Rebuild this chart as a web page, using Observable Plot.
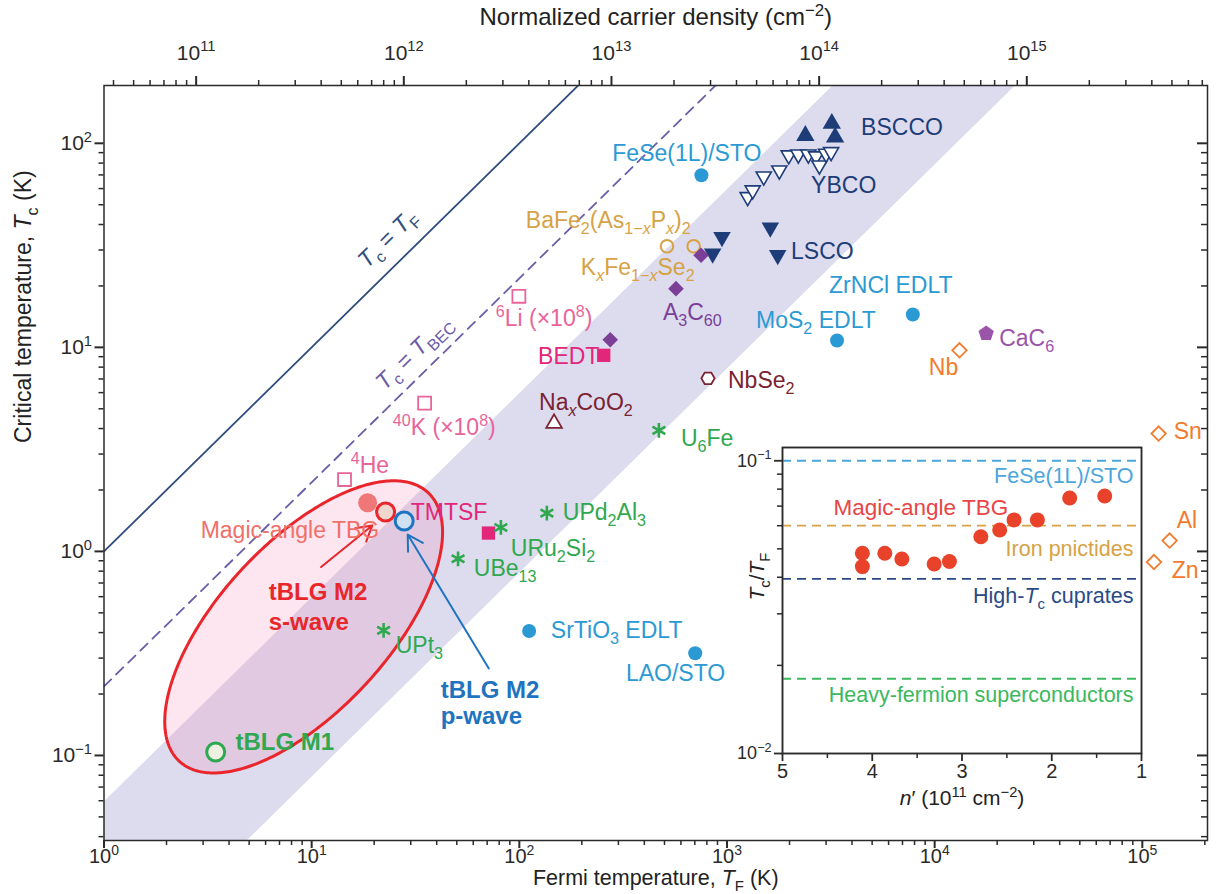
<!DOCTYPE html>
<html><head><meta charset="utf-8">
<script src="https://cdn.jsdelivr.net/npm/d3@7"></script>
<script src="https://cdn.jsdelivr.net/npm/@observablehq/plot@0.6"></script>
<style>
body{margin:0;background:#fff;}
#wrap{position:relative;width:1220px;height:894px;}
#wrap svg{position:absolute;}
</style></head><body><div id="wrap"></div>
<script>
// ---------------- DATA (T_F in K, T_c in K) ----------------
const bsccoPts = [[2384,109],[3197,125],[3315,107]];
const ybcoPts = [[1258,54.6],[1330,58.9],[1503,68.9],[1786,73.7],[1983,87.4],[2206,88.3],[2465,88.3],[2685,86.4],[2786,78.0],[3000,89],[3172,90.7]];
const lscoPts = [[946,34.7],[853,28.8],[1617,38.6],[1755,28.3]];
const pnictidePts = [[514,31.3],[691,31.3]];
const fulleridePts = [[750,28.3],[568,19.4],[274,10.9]];
const organicPts = [[255,9.14],[71,1.23]];          // BEDT, TMTSF
const coldAtomPts = [[99.5,17.8],[35,5.33],[14.4,2.25]]; // 6Li, 40K, 4He
const nbse2Pts = [[810,7.05]];
const naxcoo2Pts = [[147,4.24]];
const heavyFermionPts = [[470,3.92],[81.5,1.31],[50.7,0.92],[135.7,1.54],[22.2,0.41]];
const interfacePts = [[753,69.7],[7850,14.5],[3388,10.8],[111.5,0.407],[703,0.317]];
const cac6Pts = [[17700,11.7]];
const elementPts = [[13170,9.67],[119800,3.78],[135400,1.13],[113800,0.887]];
const tbgMagicPts = [[18.6,1.73]];
const tblgM2sPts = [[22.7,1.56]];
const tblgM2pPts = [[27.9,1.41]];
const tblgM1Pts = [[3.45,0.104]];

// reference lines: T_c / T_F ratios
const tfRatio = 1, becRatio = 0.218, bandLo = 0.0078, bandHi = 0.059;

// inset: n' (1e11 cm^-2), T_c/T_F
const insetTBG = [[4.11,0.0483],[4.11,0.0435],[3.86,0.0483],[3.67,0.0462],[3.31,0.0444],[3.14,0.0453],[2.79,0.055],[2.58,0.058],[2.42,0.0628],[2.16,0.0628],[1.80,0.0746],[1.41,0.0758]];
const insetRefLines = [{v:0.1,g:"lightBlueLine"},{v:0.06,g:"tan"},{v:0.0395,g:"navyLine"},{v:0.018,g:"greenLine"}];

// axis ticks
const xMajor = [1,10,100,1e3,1e4,1e5];
const yMajor = [0.1,1,10,100];
const nMajor = [1e11,1e12,1e13,1e14,1e15];
const insetXMajor = [5,4,3,2,1], insetXMinor = [4.5,3.5,2.5,1.5];
const insetYMajor = [0.01,0.1];

// labels (data coordinates)
const labelsStart = [
 {t:"BSCCO", x:4424, y:119.8, g:"navy"},
 {t:"YBCO", x:2541, y:62.3, g:"navy"},
 {t:"LSCO", x:2034, y:29.6, g:"navy"},
 {t:"BaFe_{2}(As_{1−*x*}P_{*x*})_{2}", x:107.5, y:41.9, g:"tan"},
 {t:"K_{*x*}Fe_{1−*x*}Se_{2}", x:197.8, y:24.7, g:"tan"},
 {t:"A_{3}C_{60}", x:491.6, y:14.85, g:"purple"},
 {t:"ZrNCl EDLT", x:3101, y:20.1, g:"lightBlue"},
 {t:"MoS_{2} EDLT", x:1380, y:13.56, g:"lightBlue"},
 {t:"CaC_{6}", x:20460, y:11.07, g:"violet"},
 {t:"NbSe_{2}", x:1011, y:6.89, g:"darkRed"},
 {t:"U_{6}Fe", x:600, y:3.58, g:"green"},
 {t:"^{6}Li (×10^{8})", x:77.0, y:13.87, g:"pink"},
 {t:"^{40}K (×10^{8})", x:24.6, y:4.05, g:"pink"},
 {t:"^{4}He", x:15.42, y:2.64, g:"pink"},
 {t:"TMTSF", x:30.0, y:1.553, g:"magenta"},
 {t:"Magic-angle TBG", x:2.92, y:1.267, g:"salmon"},
 {t:"UPt_{3}", x:25.4, y:0.346, g:"green"},
 {t:"URu_{2}Si_{2}", x:91.0, y:1.034, g:"green"},
 {t:"UBe_{13}", x:60.4, y:0.825, g:"green"},
 {t:"UPd_{2}Al_{3}", x:162, y:1.553, g:"green"},
 {t:"SrTiO_{3} EDLT", x:141.8, y:0.41, g:"lightBlue"},
 {t:"LAO/STO", x:326, y:0.2523, g:"lightBlue"},
 {t:"Sn", x:141500, y:3.875, g:"orange"},
 {t:"Al", x:146300, y:1.419, g:"orange"},
 {t:"Zn", x:138400, y:0.807, g:"orange"}
];
const labelsMiddle = [
 {t:"FeSe(1L)/STO", x:641, y:89.3, g:"lightBlue"},
 {t:"Na_{*x*}CoO_{2}", x:209.2, y:5.38, g:"darkRed"}
];
const labelsEnd = [
 {t:"Nb", x:12980, y:7.98, g:"orange"},
 {t:"BEDT", x:243, y:9.03, g:"magenta"}
];
const labelsBold = [
 {t:"tBLG M2", x:6.21, y:0.629, g:"red"},
 {t:"s-wave", x:6.21, y:0.449, g:"red"},
 {t:"tBLG M1", x:4.30, y:0.1159, g:"green"},
 {t:"tBLG M2", x:41.8, y:0.2083, g:"blue"},
 {t:"p-wave", x:41.8, y:0.1553, g:"blue"}
];
const labelsRot = [
 {t:"*T*_{c} = *T*_{F}", x:23.2, y:34.2, g:"tfLine"},
 {t:"*T*_{c} = *T*_{BEC}", x:31.0, y:9.45, g:"bec"}
];
const arrowsData = [
 {x1:11.1, y1:0.838, x2:19.6, y2:1.34, g:"red"},
 {x1:71.3, y1:0.267, x2:29.0, y2:1.21, g:"blue"}
];
const insetLabelsEnd = [
 {t:"FeSe(1L)/STO", x:1.089, y:0.0889, g:"lightBlueLine"},
 {t:"Iron pnictides", x:1.089, y:0.0501, g:"tan"},
 {t:"High-*T*_{c} cuprates", x:1.089, y:0.0346, g:"navyLine"},
 {t:"Heavy-fermion superconductors", x:1.089, y:0.01578, g:"greenLine"}
];
const insetLabelsStart = [{t:"Magic-angle TBG", x:4.432, y:0.0691, g:"insetRed"}];

// ---------------- STYLE ----------------
const C = {
 navy:"#1d3c78", lightBlue:"#2b9ad4", tan:"#d6a245", purple:"#7b3f98", violet:"#9b55a8",
 magenta:"#e2277b", pink:"#e8649a", darkRed:"#7b2233", green:"#2fa84f", orange:"#f27b2e",
 red:"#e8262b", salmon:"#f0706a", blue:"#1f74c0", tfLine:"#2e4d7e", bec:"#6c5ca8",
 lightBlueLine:"#4aa6dc", navyLine:"#2a4a86", greenLine:"#3cb860", insetRed:"#e84545"
};
const F = "'Liberation Sans', Arial, Helvetica, sans-serif";
const W = 1220, H = 894, mL = 103.5, mR = 13, mT = 85, mB = 54;
const xDom = [1, 2.06e5], yDom = [0.0383, 192];
const nPerK = 3.6e10;
const axisC = "#2a2a2a";
const pxX = (W - mL - mR) / Math.log10(xDom[1] / xDom[0]);
const rightTick = len => xDom[1] / Math.pow(10, len / pxX);
const pow10 = e => `10^{${e < 0 ? "−" + (-e) : e}}`;
const minors = (lo, hi, k0, k1) => { const out = []; for (let k = k0; k <= k1; k++) for (let m = 2; m <= 9; m++) { const v = m * Math.pow(10, k); if (v >= lo && v <= hi) out.push(v); } return out; };
const xMinor = minors(xDom[0], xDom[1], 0, 5);
const yMinor = minors(yDom[0], yDom[1], -2, 2);
const nMinor = minors(xDom[0] * nPerK, xDom[1] * nPerK, 10, 15);
const insetYMinor = minors(0.01, 0.1, -2, -2);

// symbols
const sqrt3 = Math.sqrt(3);
const triangleDown = {draw(ctx, size){ const y = -Math.sqrt(size / (sqrt3 * 3)); ctx.moveTo(0, -y * 2); ctx.lineTo(-sqrt3 * y, y); ctx.lineTo(sqrt3 * y, y); ctx.closePath(); }};
const polygon = (n, k, rot) => ({draw(ctx, size){ const r = Math.sqrt(size / k); for (let i = 0; i < n; i++){ const a = rot + i * 2 * Math.PI / n; const px = r * Math.cos(a), py = r * Math.sin(a); if (i) ctx.lineTo(px, py); else ctx.moveTo(px, py); } ctx.closePath(); }});
const pentagon = polygon(5, 2.378, -Math.PI / 2);
const hexagon = polygon(6, 2.598, 0);

// ellipse (log-space shape)
const ell = {cx: 9.15, cy: 0.4266, a: 0.89, b: 0.41, angle: 48};
const th = ell.angle * Math.PI / 180;
const ellPt = t => {
  const u = Math.log10(ell.cx) + ell.a * Math.cos(t) * Math.cos(th) - ell.b * Math.sin(t) * Math.sin(th);
  const v = Math.log10(ell.cy) + ell.a * Math.cos(t) * Math.sin(th) + ell.b * Math.sin(t) * Math.cos(th);
  return [Math.pow(10, u), Math.pow(10, v)];
};
const ellHalf = d3.range(0, 181).map(i => { const t = i * Math.PI / 180, p = ellPt(t), q = ellPt(-t); return {x1:p[0], y1:p[1], x2:q[0], y2:q[1]}; });
const ellRing = d3.range(0, 361).map(i => ellPt(i * Math.PI / 180));

const X = d => d[0], Y = d => d[1];
const dots = (data, o) => Plot.dot(data, {x: X, y: Y, ...o});
const txt = (data, o) => Plot.text(data, {x: "x", y: "y", text: "t", fill: d => C[d.g], fontSize: 23, ...o});

const main = Plot.plot({
  width: W, height: H, marginLeft: mL, marginRight: mR, marginTop: mT, marginBottom: mB,
  x: {type: "log", domain: xDom, label: null},
  y: {type: "log", domain: yDom, label: null},
  color: {type: "identity"},
  style: {fontFamily: F, background: "transparent", overflow: "visible"},
  marks: [
    Plot.area(xDom, {x1: d => d, y1: d => d * bandLo, x2: d => d, y2: d => d * bandHi, fill: "#dcdcee", clip: true}),
    Plot.line(xDom, {x: d => d, y: d => d * tfRatio, stroke: C.tfLine, strokeWidth: 1.8, clip: true}),
    Plot.line(xDom, {x: d => d, y: d => d * becRatio, stroke: C.bec, strokeWidth: 1.8, strokeDasharray: "10,7", clip: true}),
    Plot.area(ellHalf, {x1: "x1", y1: "y1", x2: "x2", y2: "y2", fill: "#f48fb5", fillOpacity: 0.22}),
    dots(bsccoPts, {symbol: "triangle", r: 6.8, fill: C.navy}),
    dots(ybcoPts, {symbol: triangleDown, r: 5.6, fill: "white", stroke: C.navy, strokeWidth: 1.6}),
    dots(lscoPts, {symbol: triangleDown, r: 6.5, fill: C.navy}),
    dots(pnictidePts, {symbol: "circle", r: 6.3, fill: "none", stroke: C.tan, strokeWidth: 2}),
    dots(fulleridePts, {symbol: "diamond2", r: 7, fill: C.purple}),
    dots(organicPts, {symbol: "square", r: 7.5, fill: C.magenta}),
    dots(coldAtomPts, {symbol: "square", r: 7.3, fill: "white", stroke: C.pink, strokeWidth: 1.8}),
    dots(nbse2Pts, {symbol: hexagon, r: 6, fill: "white", stroke: C.darkRed, strokeWidth: 1.8}),
    dots(naxcoo2Pts, {symbol: "triangle", r: 5.8, fill: "white", stroke: C.darkRed, strokeWidth: 1.8}),
    dots(heavyFermionPts, {symbol: "asterisk", r: 7, stroke: C.green, strokeWidth: 2.6}),
    dots(interfacePts, {symbol: "circle", r: 7, fill: C.lightBlue}),
    dots(cac6Pts, {symbol: pentagon, r: 7, fill: C.violet}),
    dots(elementPts, {symbol: "diamond2", r: 6.5, fill: "white", stroke: C.orange, strokeWidth: 1.8}),
    dots(tbgMagicPts, {symbol: "circle", r: 9.5, fill: "#ee6a6a", fillOpacity: 0.9}),
    dots(tblgM2sPts, {symbol: "circle", r: 9, fill: "#f1d6cf", stroke: C.red, strokeWidth: 3}),
    dots(tblgM2pPts, {symbol: "circle", r: 9, fill: "#cfe0f2", stroke: C.blue, strokeWidth: 3}),
    dots(tblgM1Pts, {symbol: "circle", r: 9, fill: "#eef0e2", stroke: C.green, strokeWidth: 3}),
    Plot.line(ellRing, {x: X, y: Y, stroke: C.red, strokeWidth: 3}),
    Plot.arrow(arrowsData, {x1: "x1", y1: "y1", x2: "x2", y2: "y2", stroke: d => C[d.g], strokeWidth: 2, headLength: 13}),
    txt(labelsStart, {textAnchor: "start"}),
    txt(labelsMiddle, {textAnchor: "middle"}),
    txt(labelsEnd, {textAnchor: "end"}),
    txt(labelsBold, {textAnchor: "start", fontWeight: "bold", fontSize: 24}),
    txt(labelsRot, {rotate: -44.5, fontSize: 23}),
    Plot.frame({stroke: axisC, strokeWidth: 1.5}),
    Plot.axisX(xMajor, {anchor: "bottom", tickSize: 8, tickPadding: 0, strokeWidth: 2, fontSize: 20, color: axisC, tickFormat: d => pow10(Math.round(Math.log10(d))), label: null}),
    Plot.axisX(xMinor, {anchor: "bottom", tickSize: 5, strokeWidth: 1.5, color: axisC, tickFormat: () => "", label: null}),
    Plot.axisX(nMajor.map(n => n / nPerK), {anchor: "top", tickSize: 10, tickPadding: 16, strokeWidth: 2, fontSize: 21, color: axisC, tickFormat: d => pow10(Math.round(Math.log10(d * nPerK))), label: null}),
    Plot.axisX(nMinor.map(n => n / nPerK), {anchor: "top", tickSize: 6, strokeWidth: 1.5, color: axisC, tickFormat: () => "", label: null}),
    Plot.axisY(yMajor, {anchor: "left", tickSize: 9, tickPadding: 3, strokeWidth: 2, fontSize: 21, color: axisC, tickFormat: d => pow10(Math.round(Math.log10(d))), label: null}),
    Plot.axisY(yMinor, {anchor: "left", tickSize: 5, strokeWidth: 1.5, color: axisC, tickFormat: () => "", label: null}),
    Plot.ruleY(yMajor, {y: d => d, x1: rightTick(10), x2: xDom[1], stroke: axisC, strokeWidth: 2}),
    Plot.ruleY(yMinor, {y: d => d, x1: rightTick(6), x2: xDom[1], stroke: axisC, strokeWidth: 1.5}),
    Plot.text(["Normalized carrier density (cm^{−2})"], {frameAnchor: "top", lineAnchor: "middle", dy: -68, fontSize: 24, fill: "#222"}),
    Plot.text(["Fermi temperature, *T*_{F} (K)"], {frameAnchor: "bottom", lineAnchor: "middle", dy: 38, fontSize: 21.5, fill: "#222"}),
    Plot.text(["Critical temperature, *T*_{c} (K)"], {frameAnchor: "left", dx: -80, dy: -20, rotate: -90, fontSize: 23, fill: "#222"})
  ]
});
main.style.left = "0px"; main.style.top = "0px";

const iL = 700, iT = 430;
const inset = Plot.plot({
  width: 491, height: 393, marginLeft: 82, marginRight: 50, marginTop: 17, marginBottom: 70,
  x: {domain: [5, 1], label: null},
  y: {type: "log", domain: [0.01, 0.111], label: null},
  color: {type: "identity"},
  style: {fontFamily: F, background: "transparent", overflow: "visible"},
  marks: [
    Plot.frame({fill: "white", stroke: axisC, strokeWidth: 1.5}),
    Plot.ruleY(insetRefLines, {y: "v", stroke: d => C[d.g], strokeDasharray: "9,6", strokeWidth: 1.8}),
    Plot.dot(insetTBG, {x: X, y: Y, r: 7.5, fill: "#e8432a"}),
    txt(insetLabelsEnd, {textAnchor: "end", fontSize: 21.5}),
    txt(insetLabelsStart, {textAnchor: "start", fontSize: 22.5}),
    Plot.frame({stroke: axisC, strokeWidth: 1.5}),
    Plot.axisX(insetXMajor, {anchor: "bottom", tickSize: 8, tickPadding: 2, strokeWidth: 1.8, fontSize: 20, color: axisC, tickFormat: d => String(d), label: null}),
    Plot.axisX(insetXMinor, {anchor: "bottom", tickSize: 5, strokeWidth: 1.5, color: axisC, tickFormat: () => "", label: null}),
    Plot.axisY(insetYMajor, {anchor: "left", tickSize: 8, tickPadding: 3, strokeWidth: 1.8, fontSize: 18, color: axisC, tickFormat: d => pow10(Math.round(Math.log10(d))), label: null}),
    Plot.axisY(insetYMinor, {anchor: "left", tickSize: 5, strokeWidth: 1.5, color: axisC, tickFormat: () => "", label: null}),
    Plot.text(["*n*′ (10^{11} cm^{−2})"], {frameAnchor: "bottom", lineAnchor: "middle", dy: 45, fontSize: 21, fill: "#222"}),
    Plot.text(["*T*_{c}/*T*_{F}"], {frameAnchor: "left", dx: -25, rotate: -90, fontSize: 21, fill: "#222"})
  ]
});
inset.style.left = iL + "px"; inset.style.top = iT + "px";

const wrap = document.getElementById("wrap");
wrap.appendChild(main);
wrap.appendChild(inset);

// ---------- rich text: _{sub} ^{sup} *italic* ----------
function parseMarkup(s){
  const segs = [], stack = []; let italic = false, buf = "";
  const mode = () => stack.length ? stack[stack.length - 1] : null;
  const flush = () => { if (buf) { segs.push({text: buf, mode: mode(), italic}); buf = ""; } };
  for (let i = 0; i < s.length; i++) {
    const c = s[i];
    if ((c === "_" || c === "^") && s[i + 1] === "{") { flush(); stack.push(c === "_" ? "sub" : "sup"); i++; }
    else if (c === "}" && stack.length) { flush(); stack.pop(); }
    else if (c === "*") { flush(); italic = !italic; }
    else buf += c;
  }
  flush();
  return segs;
}
function richify(root){
  const NS = "http://www.w3.org/2000/svg";
  root.querySelectorAll("text").forEach(t => {
    if (t.querySelector("tspan")) return;
    const s = t.textContent;
    if (!/[_^*]/.test(s)) return;
    const fs = parseFloat(getComputedStyle(t).fontSize) || 20;
    const segs = parseMarkup(s);
    t.textContent = "";
    let cur = 0;
    for (const g of segs) {
      const ts = document.createElementNS(NS, "tspan");
      const target = g.mode === "sub" ? 0.28 * fs : g.mode === "sup" ? -0.4 * fs : 0;
      if (target !== cur) { ts.setAttribute("dy", (target - cur).toFixed(2)); cur = target; }
      if (g.mode) ts.setAttribute("font-size", (0.7 * fs).toFixed(1));
      if (g.italic) ts.setAttribute("font-style", "italic");
      ts.textContent = g.text;
      t.appendChild(ts);
    }
  });
}
richify(main);
richify(inset);
</script>
</body></html>
